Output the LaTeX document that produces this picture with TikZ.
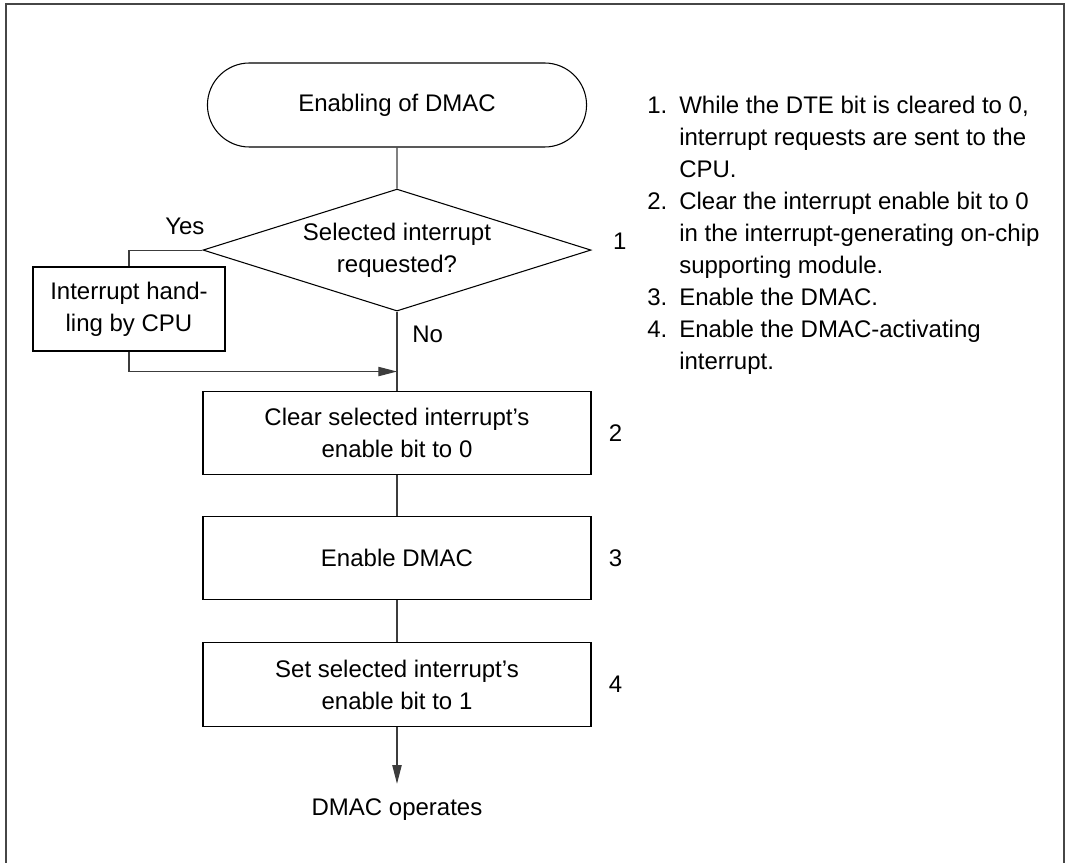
\documentclass[tikz,border=0pt]{standalone}
\usepackage{fontspec}
\setmainfont{Liberation Sans}
\usepackage{tikz}
\usetikzlibrary{shapes,arrows.meta,positioning,calc}
\definecolor{framegray}{RGB}{70, 70, 70}
\definecolor{linegray}{RGB}{60, 60, 60}

\begin{document}
\begin{tikzpicture}[x=0.75pt, y=-0.75pt, font=\fontsize{18}{24}\selectfont,
    stepbox/.style={draw, line width=0.8pt, rectangle, minimum width=291pt, minimum height=62.5pt, align=center},
    flow/.style={draw=linegray, line width=0.8pt},
    arr/.style={flow, -{Triangle[length=14pt, width=7pt]}}]
    \useasboundingbox (0,0) rectangle (1068,863);
    % outer frame, open at the bottom
    \draw [framegray, line width=1.5pt] (6,863) -- (6,4) -- (1064,4) -- (1064,863);

    \node [draw, line width=0.8pt, rounded rectangle, minimum width=291pt, minimum height=63pt] (start) at (397,105) {Enabling of DMAC};
    \node [draw, line width=0.8pt, diamond, aspect=3.18, inner sep=0pt, minimum width=291pt, minimum height=91.5pt, align=center, below=30.75pt of start] (sel) {Selected interrupt\\requested?};
    \node [stepbox, below=59.25pt of sel] (clr) {Clear selected interrupt's\\enable bit to 0};
    \node [stepbox, below=30.75pt of clr] (ena) {Enable DMAC};
    \node [stepbox, below=31.5pt of ena] (setb) {Set selected interrupt's\\enable bit to 1};
    \node [inner sep=0pt, below=54pt of setb] (ops) {DMAC operates};
    \node [stepbox, minimum width=144pt, minimum height=63pt] (cpu) at (129,309) {Interrupt hand-\\ling by CPU};

    \node [anchor=base east] (yes) at ([xshift=5pt, yshift=12pt]sel.west) {Yes};
    \node [anchor=base west] (no) at ([xshift=8pt, yshift=-23pt]sel.south) {No};

    \node [inner sep=0pt, anchor=west] (n1) at ([xshift=16pt, yshift=6.75pt]sel.east) {1};
    \node [inner sep=0pt, right=12.75pt of clr] (n2) {2};
    \node [inner sep=0pt, right=12.75pt of ena] (n3) {3};
    \node [inner sep=0pt, right=12.75pt of setb] (n4) {4};

    \node [inner sep=0pt, anchor=base west] (notes) at (647,114) {%
        \begin{tabular}[t]{@{}r@{\hspace{9pt}}l@{}}
        1. & While the DTE bit is cleared to 0,\\
           & interrupt requests are sent to the\\
           & CPU.\\
        2. & Clear the interrupt enable bit to 0\\
           & in the interrupt-generating on-chip\\
           & supporting module.\\
        3. & Enable the DMAC.\\
        4. & Enable the DMAC-activating\\
           & interrupt.
        \end{tabular}};

    \draw [flow] (start) -- (sel);
    \draw [flow] (sel) -- (clr);
    \draw [flow] (clr) -- (ena);
    \draw [flow] (ena) -- (setb);
    \draw [arr, shorten >=11.25pt] (setb) -- (ops);
    \draw [flow] (sel.west) -| (cpu.north);
    \draw [arr] (cpu.south) |- ([yshift=-15pt]cpu.south -| sel.south);
\end{tikzpicture}
\end{document}
